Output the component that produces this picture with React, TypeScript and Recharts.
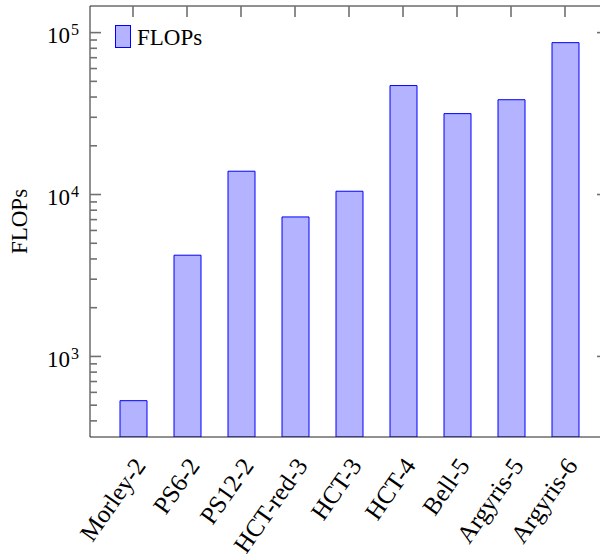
import { BarChart, Bar, XAxis, YAxis, Legend } from 'recharts';

const categories = ['Morley-2', 'PS6-2', 'PS12-2', 'HCT-red-3', 'HCT-3', 'HCT-4', 'Bell-5', 'Argyris-5', 'Argyris-6'];
const flops = [533, 4220, 13930, 7270, 10480, 47100, 31600, 38500, 86700];
const majorTicks = [1000, 10000, 100000];
const minorTicks = [
  400, 500, 600, 700, 800, 900,
  2000, 3000, 4000, 5000, 6000, 7000, 8000, 9000,
  20000, 30000, 40000, 50000, 60000, 70000, 80000, 90000,
];
const yDomain = [318, 146000];

const data = categories.map((name, i) => ({ name, flops: flops[i] }));

const FONT = '"Liberation Serif", "DejaVu Serif", serif';
const PLOT_LEFT = 90;
const PLOT_BOTTOM = 437;
const TICK_COLOR = '#707070';
const AXIS_COLOR = '#222';
const tickStyle = { stroke: TICK_COLOR, strokeWidth: 1.6 };

const NoLabel = () => <g />;

function LeftTick(props: any) {
  const { y, payload } = props;
  const exp = Math.round(Math.log10(payload.value));
  return (
    <g>
      <line x1={PLOT_LEFT} x2={PLOT_LEFT + 11} y1={y} y2={y} stroke={TICK_COLOR} strokeWidth={1.6} />
      <text x={70} y={y} dy={10.5} textAnchor="end" fontSize={23} fontFamily={FONT} fill="#000">
        10
      </text>
      <text x={71} y={y} dy={2.5} textAnchor="start" fontSize={16} fontFamily={FONT} fill="#000">
        {exp}
      </text>
    </g>
  );
}

function BottomTick(props: any) {
  const { x, payload } = props;
  const ax = x + 7;
  const ay = PLOT_BOTTOM + 24;
  return (
    <text
      x={ax}
      y={ay}
      dy="0.33em"
      textAnchor="end"
      fontSize={25}
      fontFamily={FONT}
      fill="#000"
      transform={`rotate(-55, ${ax}, ${ay})`}
    >
      {payload.value}
    </text>
  );
}

function LegendContent(props: any) {
  const item = props.payload && props.payload[0];
  return (
    <div style={{ display: 'flex', alignItems: 'flex-start' }}>
      <span
        style={{
          display: 'inline-block',
          width: 14,
          height: 21,
          background: '#b3b3ff',
          border: '1px solid #0000ff',
        }}
      />
      <span style={{ fontFamily: FONT, fontSize: 23, lineHeight: '26px', marginLeft: 6, color: '#000' }}>
        {item ? item.value : 'FLOPs'}
      </span>
    </div>
  );
}

function YLabel(props: any) {
  const vb = props.viewBox || { x: 0, y: 6, height: 431 };
  const cx = 27;
  const cy = vb.y + vb.height / 2;
  return (
    <text
      x={cx}
      y={cy}
      textAnchor="middle"
      fontSize={23}
      fontFamily={FONT}
      fill="#000"
      transform={`rotate(-90, ${cx}, ${cy})`}
    >
      FLOPs
    </text>
  );
}

export default function App() {
  return (
    <div style={{ position: 'absolute', left: 0, top: 0, width: 600, height: 560, overflow: 'hidden', background: '#fff' }}>
      <BarChart width={609} height={560} data={data} margin={{ top: 5, right: 0, bottom: 0, left: 0 }}>
        <XAxis
          dataKey="name"
          height={123}
          interval={0}
          padding={{ left: 16, right: 16 }}
          tickLine={false}
          stroke={AXIS_COLOR}
          tick={<BottomTick />}
        />
        {/* top frame with inward ticks at each category */}
        <XAxis
          xAxisId="top"
          orientation="top"
          dataKey="name"
          height={1}
          interval={0}
          padding={{ left: 16, right: 16 }}
          tick={NoLabel}
          tickSize={-11}
          stroke={AXIS_COLOR}
          tickLine={tickStyle}
        />
        <YAxis
          type="number"
          scale="log"
          domain={yDomain}
          allowDataOverflow
          ticks={majorTicks}
          interval={0}
          width={90}
          tickLine={false}
          stroke={AXIS_COLOR}
          tick={<LeftTick />}
          label={<YLabel />}
        />
        {/* minor log ticks, drawn inward from the left frame */}
        <YAxis
          yAxisId="minor"
          type="number"
          scale="log"
          domain={yDomain}
          allowDataOverflow
          ticks={minorTicks}
          interval={0}
          width={1}
          mirror
          axisLine={false}
          tick={NoLabel}
          tickSize={7}
          tickLine={tickStyle}
        />
        <YAxis
          yAxisId="right"
          orientation="right"
          type="number"
          scale="log"
          domain={yDomain}
          allowDataOverflow
          ticks={majorTicks}
          interval={0}
          width={1}
          tick={NoLabel}
          tickSize={-11}
          stroke={AXIS_COLOR}
          tickLine={tickStyle}
        />
        <Legend
          layout="horizontal"
          verticalAlign="middle"
          align="center"
          wrapperStyle={{ left: 115, top: 25, width: 'auto' }}
          content={<LegendContent />}
        />
        <Bar dataKey="flops" name="FLOPs" fill="#b3b3ff" stroke="#0000ff" strokeWidth={1} barSize={27} isAnimationActive={false} />
      </BarChart>
    </div>
  );
}
